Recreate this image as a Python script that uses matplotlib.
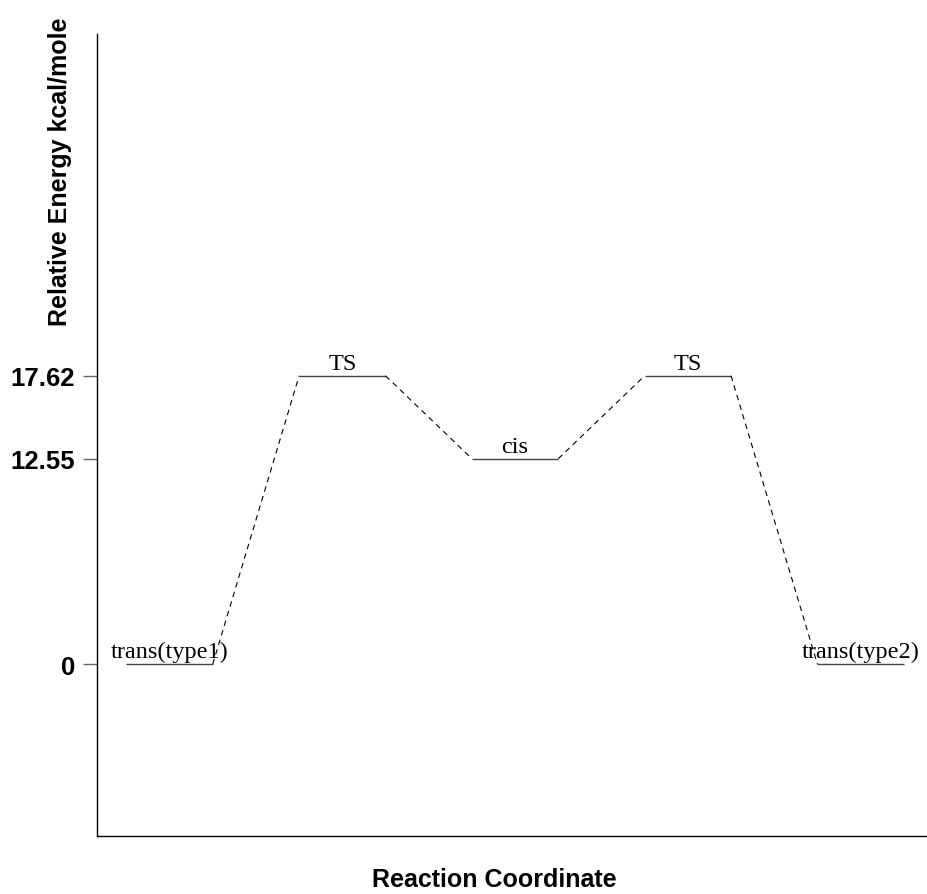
import matplotlib
matplotlib.use("Agg")
import matplotlib.pyplot as plt
from matplotlib.transforms import offset_copy

states = ["trans(type1)", "TS", "cis", "TS", "trans(type2)"]
energies = [0.0, 17.62, 12.55, 17.62, 0.0]
tick_values = [0, 12.55, 17.62]
tick_labels = ["0", "12.55", "17.62"]

fig = plt.figure(figsize=(9.28, 8.95), dpi=100)
ax = fig.add_axes([97/928, 1-837/895, 1-97/928, (837-35)/895])

half = 0.25
txt_tr = offset_copy(ax.transData, fig=fig, x=0, y=5.0, units="points")
for i, (name, e) in enumerate(zip(states, energies)):
    ax.plot([i-half, i+half], [e, e], color="#444444", lw=1.0, solid_capstyle="butt")
    ax.text(i, e, name, ha="center", va="baseline", transform=txt_tr,
            family="Liberation Serif", fontsize=17.5)
for i in range(len(states)-1):
    ax.plot([i+half, i+1-half], [energies[i], energies[i+1]], color="black",
            lw=0.8, ls=(0, (5, 4)))

ax.set_xlim(-0.42, 4.39)
ax.set_ylim(-10.5, 38.5)
ax.set_yticks(tick_values)
ax.set_yticklabels(tick_labels, family="Liberation Sans", fontweight="bold", fontsize=18.5)
ax.tick_params(axis="y", length=10, width=1, color="#666666", pad=6)
ax.set_xticks([])
for s in ["top", "right"]:
    ax.spines[s].set_visible(False)
for s in ["left", "bottom"]:
    ax.spines[s].set_linewidth(1.0)
fig.text(60/928, 1-18/895, "Relative Energy kcal/mole", rotation=90,
         ha="center", va="top", family="Liberation Sans",
         fontweight="bold", fontsize=18)
fig.text(494/928, 1-880/895, "Reaction Coordinate", ha="center", va="center",
         family="Liberation Sans", fontweight="bold", fontsize=18)
fig.savefig("out.png", dpi=100)
